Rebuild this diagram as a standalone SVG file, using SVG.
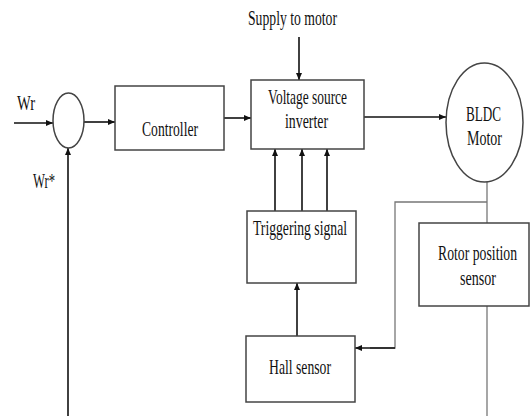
<svg xmlns="http://www.w3.org/2000/svg" width="531" height="416" viewBox="0 0 531 416">
<style>
.box{fill:#fff;stroke:#444;stroke-width:1.5}
.arr{fill:none;stroke:#111;stroke-width:1.6}
.gl{fill:none;stroke:#777;stroke-width:1.3}
text{font-family:"Liberation Serif","Times New Roman",serif;font-size:22px;fill:#111;text-anchor:middle}
</style>
<defs>
<marker id="ah" markerWidth="8" markerHeight="8" refX="7" refY="4" orient="auto" markerUnits="userSpaceOnUse">
<path d="M0,1 L7,4 L0,7 Z" fill="#111"/>
</marker>
</defs>
<rect width="531" height="416" fill="#fff"/>
<g id="connectors">
<line class="arr" x1="14" y1="123" x2="53" y2="123" marker-end="url(#ah)"/>
<line class="arr" x1="84" y1="122" x2="115" y2="122" marker-end="url(#ah)"/>
<line class="arr" x1="68" y1="416" x2="68" y2="148" marker-end="url(#ah)"/>
<line class="arr" x1="224" y1="118" x2="251" y2="118" marker-end="url(#ah)"/>
<line class="arr" x1="299" y1="37" x2="299" y2="80" marker-end="url(#ah)"/>
<line class="arr" x1="364" y1="117" x2="446" y2="117" marker-end="url(#ah)"/>
<line class="arr" x1="275" y1="211" x2="275" y2="149" marker-end="url(#ah)"/>
<line class="arr" x1="302" y1="211" x2="302" y2="149" marker-end="url(#ah)"/>
<line class="arr" x1="327" y1="211" x2="327" y2="149" marker-end="url(#ah)"/>
<line class="arr" x1="297" y1="336" x2="297" y2="283" marker-end="url(#ah)"/>
<line class="gl" x1="487" y1="182" x2="487" y2="223"/>
<line class="gl" x1="487" y1="306" x2="487" y2="416"/>
<polyline class="gl" points="487,202 395,202 395,348 370,348"/>
<line class="arr" x1="395" y1="348" x2="355" y2="348" marker-end="url(#ah)"/>
</g>
<g id="sum">
<ellipse cx="68.5" cy="120.5" rx="15.5" ry="27.5" class="box" stroke="#666"/>
</g>
<g id="labels">
<text x="26" y="110" textLength="18" lengthAdjust="spacingAndGlyphs">Wr</text>
<text x="44" y="188" textLength="22" lengthAdjust="spacingAndGlyphs">Wr*</text>
<text x="292.5" y="25" textLength="89" lengthAdjust="spacingAndGlyphs">Supply to motor</text>
</g>
<g id="controller">
<rect class="box" x="115" y="86" width="109" height="64"/>
<text x="170" y="136" textLength="56" lengthAdjust="spacingAndGlyphs">Controller</text>
</g>
<g id="vsi">
<rect class="box" x="251" y="80" width="113" height="69"/>
<text x="307.5" y="104" textLength="79" lengthAdjust="spacingAndGlyphs">Voltage source</text>
<text x="306.5" y="128" textLength="43" lengthAdjust="spacingAndGlyphs">inverter</text>
</g>
<g id="bldc">
<ellipse class="box" cx="484.5" cy="122.5" rx="38.5" ry="59.5"/>
<text x="483.5" y="121" textLength="35" lengthAdjust="spacingAndGlyphs">BLDC</text>
<text x="484.5" y="145" textLength="35" lengthAdjust="spacingAndGlyphs">Motor</text>
</g>
<g id="triggering">
<rect class="box" x="247" y="211" width="109" height="72"/>
<text x="300" y="235" textLength="94" lengthAdjust="spacingAndGlyphs">Triggering signal</text>
</g>
<g id="hall">
<rect class="box" x="246" y="336" width="109" height="66"/>
<text x="300" y="374" textLength="62" lengthAdjust="spacingAndGlyphs">Hall sensor</text>
</g>
<g id="rotor">
<rect class="box" x="419" y="223" width="110" height="83"/>
<g transform="translate(477.5,260) scale(0.625,1)">
<text x="0" y="0" textLength="126.4" lengthAdjust="spacingAndGlyphs">Rotor position</text>
</g>
<text x="478" y="285" textLength="36" lengthAdjust="spacingAndGlyphs">sensor</text>
</g>
</svg>
